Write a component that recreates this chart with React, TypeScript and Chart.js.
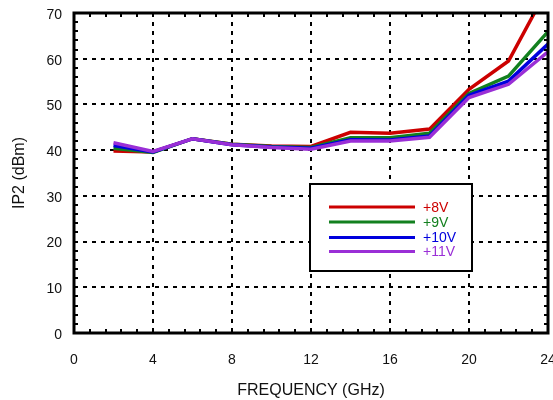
import React, { useEffect, useRef } from "react";
import { Chart, registerables } from "chart.js";

Chart.register(...registerables);

const frequencies = [2, 4, 6, 8, 10, 12, 14, 16, 18, 20, 22, 24];
const v8 = [39.8, 39.6, 42.5, 41.3, 40.9, 40.8, 43.9, 43.7, 44.6, 53.3, 59.5, 75.5];
const v9 = [40.4, 39.5, 42.5, 41.3, 40.8, 40.6, 42.7, 42.7, 43.7, 52.4, 56.2, 65.9];
const v10 = [41.0, 39.6, 42.5, 41.2, 40.7, 40.4, 42.3, 42.2, 43.1, 52.0, 55.1, 63.2];
const v11 = [41.6, 39.7, 42.5, 41.2, 40.6, 40.2, 42.0, 42.0, 42.8, 51.5, 54.4, 61.5];
const seriesLabels = ["+8V", "+9V", "+10V", "+11V"];
const seriesColors = ["#cc0000", "#13801f", "#0000dd", "#9a2fd6"];

const FONT = "'Liberation Sans', Arial, Helvetica, sans-serif";

const framePlugin = {
  id: "frameAndLegend",
  afterDatasetsDraw(chart: any) {
    const { ctx, chartArea: a, scales } = chart;
    const xs = scales.x;
    const ys = scales.y;
    ctx.save();
    ctx.strokeStyle = "#000";
    ctx.lineWidth = 2;
    ctx.setLineDash([]);
    // minor ticks
    for (let v = 0; v <= 24.001; v += 0.8) {
      const px = Math.round(xs.getPixelForValue(v));
      ctx.beginPath();
      ctx.moveTo(px, a.bottom);
      ctx.lineTo(px, a.bottom - 4);
      ctx.moveTo(px, a.top);
      ctx.lineTo(px, a.top + 4);
      ctx.stroke();
    }
    for (let v = 0; v <= 70.001; v += 2) {
      const py = Math.round(ys.getPixelForValue(v));
      ctx.beginPath();
      ctx.moveTo(a.left, py);
      ctx.lineTo(a.left + 4, py);
      ctx.moveTo(a.right, py);
      ctx.lineTo(a.right - 4, py);
      ctx.stroke();
    }
    // frame
    ctx.lineWidth = 3;
    ctx.strokeRect(a.left, a.top, a.right - a.left, a.bottom - a.top);

    // legend box
    const bx = 310, by = 184, bw = 162, bh = 87;
    ctx.fillStyle = "#fff";
    ctx.fillRect(bx, by, bw, bh);
    ctx.lineWidth = 2;
    ctx.strokeRect(bx, by, bw, bh);
    const rows = [207, 222, 237.5, 251.5];
    chart.data.datasets.forEach((ds: any, i: number) => {
      const y = rows[i];
      ctx.strokeStyle = ds.borderColor;
      ctx.lineWidth = 3;
      ctx.beginPath();
      ctx.moveTo(329, y);
      ctx.lineTo(415, y);
      ctx.stroke();
      ctx.fillStyle = ds.borderColor;
      ctx.font = `14px ${FONT}`;
      ctx.textBaseline = "middle";
      ctx.textAlign = "left";
      ctx.fillText(ds.label, 423, y + 1);
    });
    ctx.restore();
  },
};

export default function App() {
  const ref = useRef<HTMLCanvasElement | null>(null);
  useEffect(() => {
    if (!ref.current) return;
    const series = [v8, v9, v10, v11];
    const chart = new Chart(ref.current, {
      type: "line",
      data: {
        datasets: series.map((vals, i) => ({
          label: seriesLabels[i],
          data: frequencies.map((f, j) => ({ x: f, y: vals[j] })),
          borderColor: seriesColors[i],
          backgroundColor: seriesColors[i],
          borderWidth: 3.5,
          pointRadius: 0,
          tension: 0,
          order: 4 - i,
        })),
      },
      options: {
        animation: false,
        responsive: false,
        maintainAspectRatio: false,
        layout: { padding: { top: 13, right: 5, left: 0, bottom: 0 } },
        plugins: { legend: { display: false }, tooltip: { enabled: false } },
        scales: {
          x: {
            type: "linear",
            min: 0,
            max: 24,
            ticks: {
              stepSize: 4,
              padding: 19,
              color: "#111",
              font: { size: 14, family: FONT },
              maxRotation: 0,
              autoSkip: false,
            },
            grid: { color: "#000", lineWidth: 2, drawTicks: false },
            border: { display: false, dash: [4, 5] },
            title: {
              display: true,
              text: "FREQUENCY (GHz)",
              color: "#111",
              font: { size: 16, family: FONT },
              padding: { top: 0, bottom: 0 },
            },
            afterFit: (s: any) => {
              s.height = 67;
              s.paddingLeft = 0;
              s.paddingRight = 0;
            },
          },
          y: {
            type: "linear",
            min: 0,
            max: 70,
            ticks: {
              stepSize: 10,
              padding: 12,
              labelOffset: 2,
              color: "#111",
              font: { size: 14, family: FONT },
            },
            grid: { color: "#000", lineWidth: 2, drawTicks: false },
            border: { display: false, dash: [4, 5] },
            title: {
              display: true,
              text: "IP2 (dBm)",
              color: "#111",
              font: { size: 16, family: FONT },
              padding: { top: 10, bottom: 0 },
            },
            afterFit: (s: any) => {
              s.width = 74;
              s.paddingTop = 0;
              s.paddingBottom = 0;
            },
          },
        },
      },
      plugins: [framePlugin],
    });
    return () => chart.destroy();
  }, []);
  return (
    <div style={{ position: "absolute", left: 0, top: 0, width: 553, height: 400, background: "#fff" }}>
      <canvas ref={ref} width={553} height={400} style={{ width: 553, height: 400 }} />
    </div>
  );
}
